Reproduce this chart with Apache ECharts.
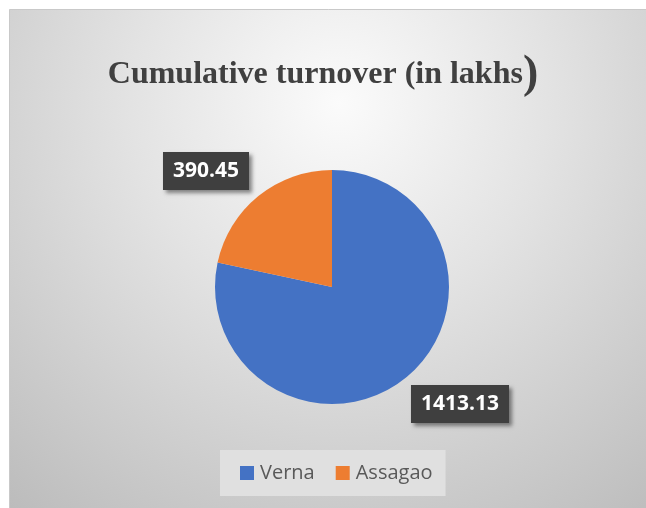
<!DOCTYPE html>
<html>
<head>
<meta charset="utf-8">
<script src="https://cdn.jsdelivr.net/npm/echarts@6/dist/echarts.min.js"></script>
<style>
  html, body { margin: 0; padding: 0; background: #ffffff; }
  #chart { width: 646px; height: 508px; }
</style>
</head>
<body>
<div id="chart"></div>
<script>
// data
const categories = ['Verna', 'Assagao'];
const turnover = [1413.13, 390.45];
const sliceColors = ['#4472C4', '#ED7D31'];

const chart = echarts.init(document.getElementById('chart'));

const pieCenter = [332, 287];
const pieRadius = 117;
// label offsets from pie centre (Excel "best fit" spot)
const labelOffsets = [[128, 117], [-126, -116]];

const option = {
  animation: false,
  graphic: {
    elements: [{
      type: 'rect',
      z: -10,
      shape: { x: 9.5, y: 9.5, width: 660, height: 520 },
      style: {
        fill: new echarts.graphic.RadialGradient(0.5, 0.18, 1.0, [
          { offset: 0, color: '#fbfbfb' },
          { offset: 0.4, color: '#e3e3e3' },
          { offset: 1, color: '#bcbcbc' }
        ]),
        stroke: '#c9c9c9',
        lineWidth: 1
      }
    }]
  },
  title: {
    text: '{a|Cumulative turnover (in lakhs}{b|)}',
    left: 'center',
    top: 47,
    textStyle: {
      rich: {
        a: { fontFamily: 'Liberation Serif', fontWeight: 'bold', fontSize: 32, color: '#404040' },
        b: { fontFamily: 'Liberation Serif', fontWeight: 'bold', fontSize: 46, color: '#404040' }
      }
    }
  },
  legend: {
    left: 220,
    top: 450,
    width: 229,
    padding: [13, 13, 13, 20],
    backgroundColor: '#e0e0e0',
    itemWidth: 14,
    itemHeight: 14,
    itemGap: 21,
    icon: 'rect',
    data: categories,
    textStyle: { fontFamily: 'Open Sans', fontSize: 20, lineHeight: 20, color: '#595959', padding: [0, 0, 0, 1] }
  },
  series: [{
    type: 'pie',
    center: pieCenter,
    radius: pieRadius,
    startAngle: 90,
    clockwise: true,
    silent: true,
    itemStyle: { borderWidth: 0 },
    labelLine: { show: false },
    label: {
      show: true,
      formatter: p => p.value.toFixed(2),
      fontFamily: 'Open Sans',
      fontWeight: 'bold',
      fontSize: 21,
      color: '#ffffff',
      backgroundColor: '#3f3f3f',
      padding: [9, 10, 8, 10],
      shadowColor: 'rgba(0,0,0,0.45)',
      shadowBlur: 4,
      shadowOffsetX: 3,
      shadowOffsetY: 3
    },
    labelLayout: params => {
      const off = labelOffsets[params.dataIndex];
      return {
        x: pieCenter[0] + off[0],
        y: pieCenter[1] + off[1],
        align: 'center',
        verticalAlign: 'middle'
      };
    },
    data: categories.map((name, i) => ({
      name: name,
      value: turnover[i],
      itemStyle: { color: sliceColors[i] }
    }))
  }]
};

chart.setOption(option);
</script>
</body>
</html>
